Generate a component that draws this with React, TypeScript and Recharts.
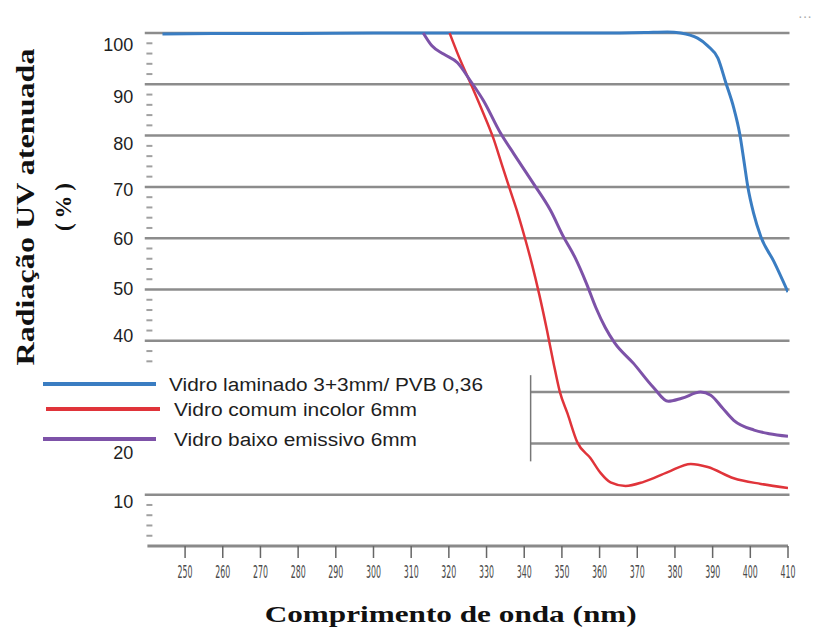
import {
  LineChart,
  Line,
  XAxis,
  YAxis,
  ReferenceLine,
  Legend,
  Label,
} from "recharts";

// wavelength (nm) / attenuated UV (%)
const laminadoX = [244, 260, 280, 300, 320, 340, 360, 372, 378, 381.5, 384, 386, 388.7, 391.4, 393.5, 395.6, 397.2, 398.3, 399.3, 400.9, 402.8, 406.3, 410];
const laminadoY = [99.8, 99.9, 99.9, 100, 100, 100, 100, 100.1, 100.2, 100, 99.6, 99, 97.5, 95.1, 90.3, 85.4, 80.3, 75.1, 70.2, 64.8, 60.3, 55.4, 49.5];

const comumX = [320.2, 322.6, 325.7, 328.9, 331.8, 334, 336.2, 338.3, 340.2, 342.1, 344, 346, 347.8, 349.4, 351.5, 354.1, 357.6, 360.3, 362.9, 366.9, 371.7, 378.1, 384.2, 388.7, 395.6, 402.8, 410];
const comumY = [100, 95.5, 90.3, 84.8, 79.5, 74.5, 69.5, 64.8, 60, 54.8, 49, 42.2, 35.6, 30.2, 25.8, 20.2, 17.1, 14.2, 12.4, 11.7, 12.5, 14.4, 16.0, 15.4, 13.2, 12.1, 11.3];

const emissivoX = [313.2, 315.5, 318.6, 322.3, 325.7, 329.2, 333.7, 337.2, 342.5, 347, 350.4, 353.5, 356.5, 359, 361.5, 364, 369, 374.3, 378.2, 381.8, 386.8, 389.5, 392.5, 395.6, 401, 405, 410];
const emissivoY = [100, 97.5, 95.9, 94.2, 90.7, 86.8, 80.5, 76.5, 70.6, 65.4, 60.3, 56.2, 51.2, 46.5, 42.6, 39.6, 35.6, 30.9, 28.2, 28.8, 30.0, 29.4, 27, 24.5, 22.6, 21.9, 21.4];

const seriesNames = [
  "Vidro laminado 3+3mm/ PVB 0,36",
  "Vidro comum incolor 6mm",
  "Vidro baixo emissivo 6mm",
];
const seriesColors = ["#3a7dc2", "#e0343a", "#7d52a8"];

const wavelengthTicks = [250, 260, 270, 280, 290, 300, 310, 320, 330, 340, 350, 360, 370, 380, 390, 400, 410];
const yLabels = [100, 90, 80, 70, 60, 50, 40, 20, 10];
const fullGrid = [100, 90, 80, 70, 60, 50, 40, 10];
const partialGrid = [30, 20];

// small dashes every 2%, hidden where the legend sits
const minorTicks: number[] = [];
for (let v = 2; v < 100; v += 2) {
  if (v % 10 !== 0 && (v >= 36 || v <= 8)) minorTicks.push(v);
}
const yTicks = [...yLabels, ...minorTicks].sort((a, b) => a - b);

// the scanned labels sit a little off their gridlines
const labelShift: Record<number, number> = { 100: 12, 90: 13, 80: 8, 70: 3, 60: 1, 50: -1, 40: -5, 20: 10, 10: 7 };

const toPoints = (xs: number[], ys: number[]) => xs.map((x, i) => ({ x, y: ys[i] }));

const series = [
  toPoints(laminadoX, laminadoY),
  toPoints(comumX, comumY),
  toPoints(emissivoX, emissivoY),
];
const widths = [3, 2.5, 3];

const YTick = (props: any) => {
  const { x, y, payload } = props;
  const v = payload.value;
  if (yLabels.includes(v)) {
    return (
      <text x={x} y={y + (labelShift[v] ?? 0)} textAnchor="end" dominantBaseline="central"
        fontSize={18} fill="#1e1e1e" fontFamily="Liberation Sans, Arial, sans-serif">
        {v}
      </text>
    );
  }
  return <line x1={x + 13} x2={x + 19} y1={y} y2={y} stroke="#a0a0a0" strokeWidth={2} />;
};

const XTick = (props: any) => {
  const { x, y, payload } = props;
  return (
    <text x={x} y={y + 20} textAnchor="middle" fontSize={17} fill="#4a4a4a"
      textLength={15} lengthAdjust="spacingAndGlyphs"
      fontFamily="DejaVu Sans Condensed, Liberation Sans Narrow, sans-serif">
      {payload.value}
    </text>
  );
};

const legendRows = [
  { x1: 43, x2: 156, tx: 169, y: 29, len: 314 },
  { x1: 46, x2: 160, tx: 174, y: 54, len: 243 },
  { x1: 43, x2: 156, tx: 174, y: 84, len: 243 },
];

const LegendBox = () => (
  <svg width={520} height={100} style={{ display: "block" }}>
    {seriesNames.map((name, i) => (
      <g key={name}>
        <line x1={legendRows[i].x1} x2={legendRows[i].x2} y1={legendRows[i].y} y2={legendRows[i].y}
          stroke={seriesColors[i]} strokeWidth={4} />
        <text x={legendRows[i].tx} y={legendRows[i].y + 7} fontSize={18} fill="#1e1e1e"
          textLength={legendRows[i].len} lengthAdjust="spacingAndGlyphs"
          fontFamily="Liberation Sans, Arial, sans-serif">
          {name}
        </text>
      </g>
    ))}
  </svg>
);

export default function App() {
  return (
    <div style={{ position: "absolute", left: 0, top: 0, width: 819, height: 630, background: "#fff" }}>
      <LineChart width={819} height={630} margin={{ top: 32, right: 31, left: 0, bottom: 0 }}>
        <XAxis
          type="number"
          dataKey="x"
          domain={[240, 410]}
          ticks={wavelengthTicks}
          interval={0}
          height={84}
          tickSize={12}
          tickMargin={0}
          axisLine={{ stroke: "#8a8a8a", strokeWidth: 3 }}
          tickLine={{ stroke: "#666", strokeWidth: 1.5 }}
          tick={<XTick />}
          allowDataOverflow
        >
          <Label
            content={(p: any) => {
              const vb = p.viewBox;
              return (
                <text x={vb.x + vb.width / 2 - 17} y={vb.y + 76} textAnchor="middle" fontSize={24}
                  fontWeight="bold" fill="#111" textLength={372} lengthAdjust="spacingAndGlyphs"
                  fontFamily="Liberation Serif, Times New Roman, serif">
                  Comprimento de onda (nm)
                </text>
              );
            }}
          />
        </XAxis>
        <YAxis
          type="number"
          domain={[0, 100]}
          ticks={yTicks}
          interval={0}
          width={147.4}
          axisLine={false}
          tickLine={false}
          tickSize={0}
          tickMargin={14}
          tick={<YTick />}
        >
          <Label
            content={(p: any) => {
              const vb = p.viewBox;
              const cy = vb.y + 175;
              return (
                <g fontFamily="Liberation Serif, Times New Roman, serif" fontWeight="bold" fill="#111">
                  <text x={vb.x + 25} y={cy} transform={`rotate(-90 ${vb.x + 25} ${cy})`} textAnchor="middle"
                    dominantBaseline="central" fontSize={25} textLength={317} lengthAdjust="spacingAndGlyphs">
                    Radiação UV atenuada
                  </text>
                  <text x={vb.x + 63} y={cy} transform={`rotate(-90 ${vb.x + 63} ${cy})`} textAnchor="middle"
                    dominantBaseline="central" fontSize={23} textLength={48} lengthAdjust="spacing">
                    (%)
                  </text>
                </g>
              );
            }}
          />
        </YAxis>
        {fullGrid.map((v) => (
          <ReferenceLine key={v} segment={[{ x: 239.3, y: v }, { x: 410.4, y: v }]}
            stroke="#8c8c8c" strokeWidth={2.5} ifOverflow="visible" />
        ))}
        {partialGrid.map((v) => (
          <ReferenceLine key={v} segment={[{ x: 341.7, y: v }, { x: 410.4, y: v }]}
            stroke="#8c8c8c" strokeWidth={2.5} ifOverflow="visible" />
        ))}
        <ReferenceLine segment={[{ x: 341.7, y: 33.3 }, { x: 341.7, y: 16.5 }]} stroke="#777" strokeWidth={1.5} />
        <Legend
          layout="horizontal"
          verticalAlign="middle"
          align="center"
          content={() => <LegendBox />}
          wrapperStyle={{ left: 0, top: 355, width: 520, height: 100 }}
        />
        {series.map((data, i) => (
          <Line
            key={seriesNames[i]}
            data={data}
            dataKey="y"
            name={seriesNames[i]}
            type="monotone"
            stroke={seriesColors[i]}
            strokeWidth={widths[i]}
            dot={false}
            activeDot={false}
            isAnimationActive={false}
          />
        ))}
      </LineChart>
      <div style={{ position: "absolute", left: 798, top: 8, color: "#aaa", fontSize: 14, fontFamily: "Liberation Sans, sans-serif" }}>
        ···
      </div>
    </div>
  );
}
